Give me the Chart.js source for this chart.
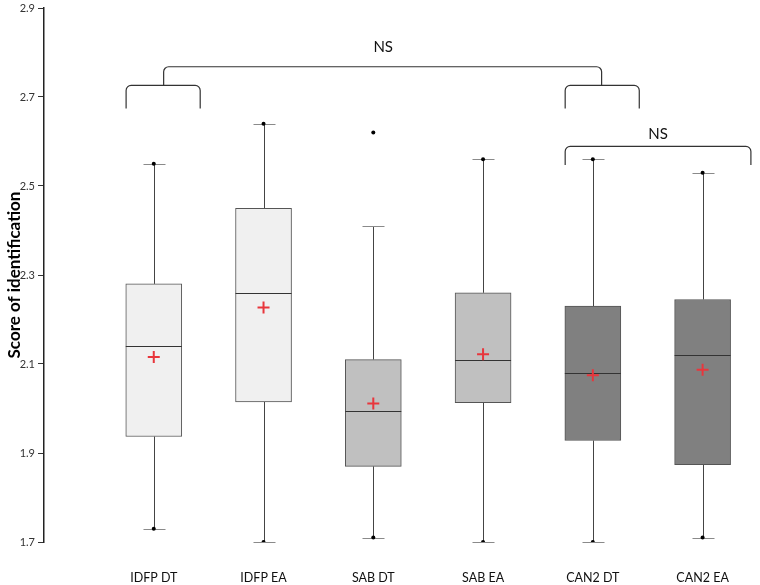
<!DOCTYPE html>
<html>
<head>
<meta charset="utf-8">
<script src="https://cdn.jsdelivr.net/npm/chart.js@4"></script>
<style>
  html, body { margin: 0; padding: 0; background: #fff; }
  #wrap { width: 760px; height: 585px; }
</style>
</head>
<body>
<div id="wrap"><canvas id="chart"></canvas></div>
<script>
const categories = ['IDFP DT', 'IDFP EA', 'SAB DT', 'SAB EA', 'CAN2 DT', 'CAN2 EA'];
const whiskerLow = [1.73, 1.70, 1.71, 1.70, 1.70, 1.71];
const q1 = [1.937, 2.015, 1.870, 2.013, 1.928, 1.874];
const medians = [2.14, 2.26, 1.995, 2.11, 2.08, 2.12];
const q3 = [2.28, 2.45, 2.11, 2.26, 2.23, 2.245];
const whiskerHigh = [2.55, 2.64, 2.41, 2.56, 2.56, 2.53];
const means = [2.116, 2.227, 2.011, 2.122, 2.075, 2.087];
const minValues = [1.73, 1.70, 1.71, 1.70, 1.70, 1.71];
const maxValues = [2.55, 2.64, 2.62, 2.56, 2.56, 2.53];
const yTicks = [1.7, 1.9, 2.1, 2.3, 2.5, 2.7, 2.9];

const boxColors = ['#f0f0f0', '#f0f0f0', '#c0c0c0', '#c0c0c0', '#808080', '#808080'];
const FONT = 'Lato, "Open Sans", sans-serif';

// brackets in axis units: x1, x2, top, bottom
const brackets = [
    [-0.252, 0.423, 2.726, 2.674],
    [3.748, 4.423, 2.726, 2.674],
    [0.09, 4.08, 2.768, 2.726],
    [3.748, 5.44, 2.589, 2.547],
];
const bracketLabels = [
    { text: 'NS', x: 2.09, y: 2.811 },
    { text: 'NS', x: 4.595, y: 2.616 },
];

const boxPlugin = {
    id: 'boxWhiskers',
    beforeDatasetsDraw(chart) {
        const { ctx, scales: { x, y } } = chart;
        ctx.save();
        categories.forEach((c, i) => {
            const cx = Math.round(x.getPixelForValue(i)) + 0.5;
            ctx.strokeStyle = '#444';
            ctx.lineWidth = 1;
            ctx.beginPath();
            ctx.moveTo(cx, y.getPixelForValue(whiskerLow[i]));
            ctx.lineTo(cx, y.getPixelForValue(q1[i]));
            ctx.moveTo(cx, y.getPixelForValue(q3[i]));
            ctx.lineTo(cx, y.getPixelForValue(whiskerHigh[i]));
            ctx.stroke();
            // caps
            ctx.strokeStyle = '#8a8a8a';
            ctx.lineWidth = 1.2;
            ctx.beginPath();
            [whiskerLow[i], whiskerHigh[i]].forEach(v => {
                const py = Math.round(y.getPixelForValue(v)) + 0.5;
                ctx.moveTo(cx - 11, py);
                ctx.lineTo(cx + 11, py);
            });
            ctx.stroke();
        });
        ctx.restore();
    },
    afterDatasetDraw(chart, args) {
        if (args.index !== 0) return;
        const { ctx, scales: { y } } = chart;
        const meta = chart.getDatasetMeta(0);
        ctx.save();
        ctx.strokeStyle = '#333';
        ctx.lineWidth = 1;
        meta.data.forEach((bar, i) => {
            const py = Math.round(y.getPixelForValue(medians[i])) + 0.5;
            ctx.beginPath();
            ctx.moveTo(bar.x - bar.width / 2, py);
            ctx.lineTo(bar.x + bar.width / 2, py);
            ctx.stroke();
        });
        ctx.restore();
    },
    afterDraw(chart) {
        const { ctx, scales: { x, y } } = chart;
        ctx.save();
        ctx.strokeStyle = '#333';
        ctx.lineWidth = 1.2;
        const r = 5;
        brackets.forEach(([a, b, top, bottom]) => {
            const x1 = x.getPixelForValue(a), x2 = x.getPixelForValue(b);
            const yt = y.getPixelForValue(top), yb = y.getPixelForValue(bottom);
            ctx.beginPath();
            ctx.moveTo(x1, yb);
            ctx.arcTo(x1, yt, x2, yt, r);
            ctx.arcTo(x2, yt, x2, yb, r);
            ctx.lineTo(x2, yb);
            ctx.stroke();
        });
        ctx.fillStyle = '#111';
        ctx.font = '15px ' + FONT;
        ctx.textAlign = 'center';
        ctx.textBaseline = 'middle';
        bracketLabels.forEach(l => {
            ctx.fillText(l.text, x.getPixelForValue(l.x), y.getPixelForValue(l.y));
        });
        ctx.restore();
    }
};

new Chart(document.getElementById('chart'), {
    type: 'bar',
    data: {
        datasets: [
            {
                type: 'bar',
                order: 3,
                data: categories.map((c, i) => ({ x: i, y: [q1[i], q3[i]] })),
                backgroundColor: boxColors,
                borderColor: '#555',
                borderWidth: 1,
                borderSkipped: false,
                barThickness: 56,
                grouped: false,
            },
            {
                type: 'scatter',
                order: 1,
                data: categories.map((c, i) => ({ x: i, y: means[i] })),
                pointStyle: 'cross',
                pointRadius: 6,
                pointBorderColor: '#e8363c',
                pointBackgroundColor: '#e8363c',
                pointBorderWidth: 2,
            },
            {
                type: 'scatter',
                order: 2,
                data: categories.flatMap((c, i) => [{ x: i, y: minValues[i] }, { x: i, y: maxValues[i] }]),
                pointStyle: 'circle',
                pointRadius: 2,
                pointBackgroundColor: '#000',
                pointBorderWidth: 0,
            },
        ]
    },
    options: {
        responsive: true,
        maintainAspectRatio: false,
        animation: false,
        layout: { padding: { top: 5, right: 0, bottom: 0, left: 0 } },
        plugins: {
            legend: { display: false },
            tooltip: { enabled: false },
        },
        scales: {
            x: {
                type: 'linear',
                offset: false,
                min: -1,
                max: 5.45,
                grid: { display: false, drawTicks: false },
                border: { display: false },
                afterBuildTicks: s => { s.ticks = categories.map((c, i) => ({ value: i })); },
                afterFit: s => { s.height = 43; s.paddingLeft = 0; s.paddingRight = 0; },
                ticks: {
                    callback: v => categories[v],
                    color: '#111',
                    font: { family: FONT, size: 12.5 },
                    padding: 28,
                    maxRotation: 0,
                    autoSkip: false,
                },
            },
            y: {
                type: 'linear',
                min: 1.7,
                max: 2.9,
                afterBuildTicks: s => { s.ticks = yTicks.map(v => ({ value: v })); },
                afterFit: s => { s.width = 44; s.paddingTop = 0; s.paddingBottom = 0; },
                grid: { drawOnChartArea: false, drawTicks: true, tickLength: 6, color: '#333' },
                border: { display: true, color: '#222', width: 1.5 },
                ticks: {
                    callback: v => v.toFixed(1),
                    color: '#333',
                    font: { family: FONT, size: 11 },
                    padding: 3,
                },
                title: {
                    display: true,
                    text: 'Score of identification',
                    color: '#000',
                    font: { family: FONT, size: 17, weight: 'bold' },
                    padding: { top: 4, bottom: 0 },
                },
            },
        },
    },
    plugins: [boxPlugin],
});
</script>
</body>
</html>
